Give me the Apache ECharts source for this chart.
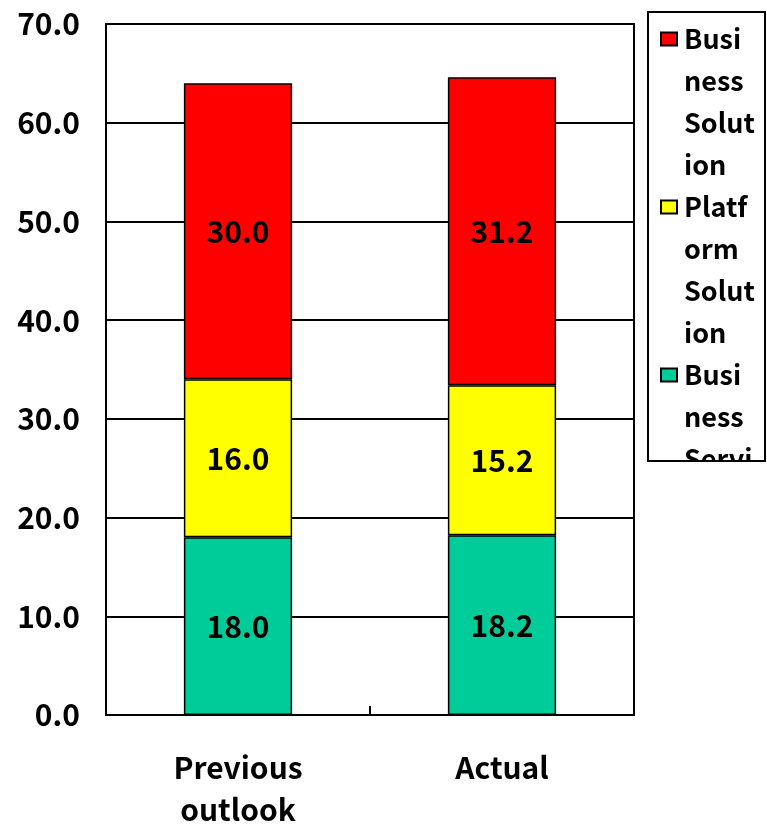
<!DOCTYPE html>
<html>
<head>
<meta charset="utf-8">
<script src="https://cdn.jsdelivr.net/npm/echarts@6/dist/echarts.min.js"></script>
<style>
html,body{margin:0;padding:0;background:#fff;}
#chart{width:767px;height:827px;}
</style>
</head>
<body>
<div id="chart"></div>
<script>
var categories = ['Previous\noutlook', 'Actual'];
var businessServices = [18.0, 18.2];
var platformSolution = [16.0, 15.2];
var businessSolution = [30.0, 31.2];
var yTicks = [0, 10, 20, 30, 40, 50, 60, 70];

var FONT = 'Noto Sans CJK JP';
var legendLines = {
  'Business Solution': ['Busi', 'ness', 'Solut', 'ion'],
  'Platform Solution': ['Platf', 'orm', 'Solut', 'ion'],
  'Business Services': ['Busi', 'ness', 'Servi', 'ces']
};
var markerKey = {
  'Business Solution': 'r',
  'Platform Solution': 'y',
  'Business Services': 'g'
};
function box(c) {
  return {width: 14, height: 11, backgroundColor: c, borderColor: '#000', borderWidth: 2};
}

var chart = echarts.init(document.getElementById('chart'), null, {renderer: 'canvas'});
var labelStyle = {
  show: true, position: 'inside', color: '#000', fontFamily: FONT,
  fontWeight: 'bold', fontSize: 30,
  formatter: function (p) { return p.value.toFixed(1); }
};
function bar(name, data, color) {
  return {
    name: name, type: 'bar', stack: 'total', data: data, barWidth: '41%',
    itemStyle: {color: color, borderColor: '#000', borderWidth: 1.5},
    label: labelStyle, emphasis: {disabled: true}
  };
}
chart.setOption({
  animation: false,
  backgroundColor: '#fff',
  grid: {left: 106, top: 24, width: 528, height: 691, show: true,
         outerBoundsMode: 'none', containLabel: false,
         borderColor: '#000', borderWidth: 2, backgroundColor: 'transparent'},
  xAxis: {
    type: 'category', data: categories,
    axisLine: {lineStyle: {color: '#000', width: 2}},
    axisTick: {show: true, inside: true, length: 9, lineStyle: {color: '#000', width: 2}},
    axisLabel: {interval: 0, margin: 32, color: '#000', fontFamily: FONT,
                fontWeight: 'bold', fontSize: 30, lineHeight: 42}
  },
  yAxis: {
    type: 'value', min: yTicks[0], max: yTicks[yTicks.length - 1], interval: 10,
    axisLine: {show: true, lineStyle: {color: '#000', width: 2}},
    axisTick: {show: false},
    splitLine: {lineStyle: {color: '#000', width: 2}},
    axisLabel: {margin: 26, color: '#000', fontFamily: FONT, fontWeight: 'bold', fontSize: 30,
                formatter: function (v) { return v.toFixed(1); }}
  },
  legend: {
    orient: 'vertical', left: 657, top: 18, padding: 0, itemGap: 0,
    itemWidth: 0, itemHeight: 0, icon: 'none', selectedMode: false,
    data: ['Business Solution', 'Platform Solution', 'Business Services'],
    formatter: function (name) {
      var lines = legendLines[name];
      return lines.map(function (l, i) {
        return (i === 0 ? '{' + markerKey[name] + '|}' : '{p|}') + '{t|' + l + '}';
      }).join('\n');
    },
    textStyle: {
      padding: 0, lineHeight: 42,
      rich: {
        r: box('#ff0000'), y: box('#ffff00'), g: box('#00cc99'),
        p: {width: 14, height: 11},
        t: {fontFamily: FONT, fontWeight: 'bold', fontSize: 27, color: '#000',
            lineHeight: 42, padding: [0, 0, 0, 8]}
      }
    }
  },
  graphic: [
    {type: 'rect', z: 200, shape: {x: 640, y: 462, width: 127, height: 365},
     style: {fill: '#fff'}},
    {type: 'rect', z: 201, shape: {x: 648, y: 12, width: 117, height: 449},
     style: {fill: null, stroke: '#000', lineWidth: 2}}
  ],
  series: [
    bar('Business Services', businessServices, '#00cc99'),
    bar('Platform Solution', platformSolution, '#ffff00'),
    bar('Business Solution', businessSolution, '#ff0000')
  ]
});
</script>
</body>
</html>
